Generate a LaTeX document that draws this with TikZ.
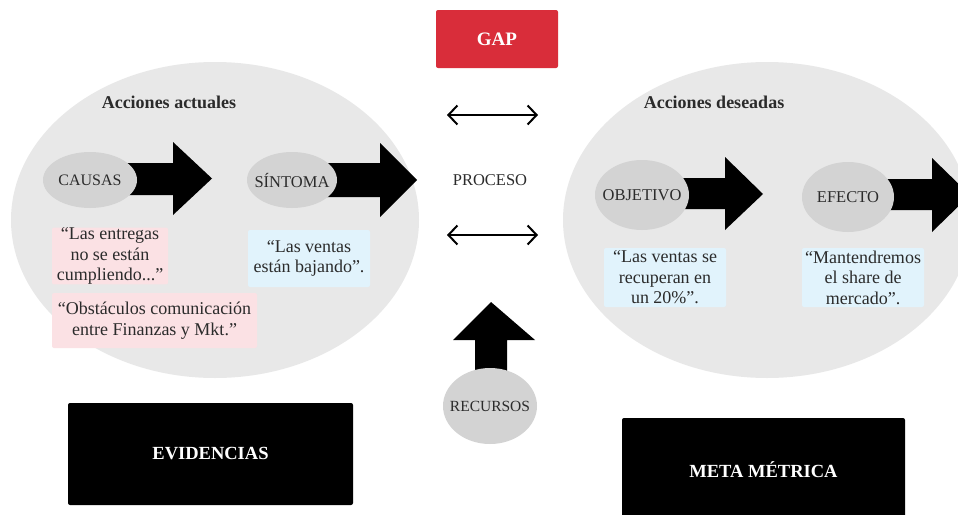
\documentclass[tikz,border=0pt]{standalone}
\usepackage{fontspec}
\setmainfont{Liberation Serif}
\usetikzlibrary{arrows.meta,shapes.geometric}
\definecolor{bigell}{HTML}{E8E8E8}
\definecolor{smallell}{HTML}{D3D3D3}
\definecolor{pinkbox}{HTML}{FBE1E4}
\definecolor{bluebox}{HTML}{E1F3FC}
\definecolor{gapred}{HTML}{D92D3A}
\definecolor{txt}{HTML}{2B2B2B}
\begin{document}
\begin{tikzpicture}[x=1pt,y=-1pt,
  bigellipse/.style={fill=bigell},
  smallel/.style={ellipse, fill=smallell, text=txt, inner xsep=-14pt, inner ysep=-4pt, font=\fontsize{16.5}{19}\selectfont},
  quote/.style={rounded corners=2pt, align=center, text=txt, inner sep=0pt, font=\fontsize{18}{20.5}\selectfont},
  title/.style={font=\bfseries\fontsize{18}{20}\selectfont, text=txt},
  blackbox/.style={fill=black, rounded corners=2pt, text=white, font=\bfseries\fontsize{18.5}{21}\selectfont},
  blockarrow/.style={fill=black},
  dbl/.style={line width=2pt, {Straight Barb[length=9pt,width=19pt,line width=2pt]}-{Straight Barb[length=9pt,width=19pt,line width=2pt]}}
]
\useasboundingbox (0,0) rectangle (958,514);
\fill[white] (0,0) rectangle (958,514);
% big ellipses
\fill[bigellipse] (215,220) ellipse[x radius=204, y radius=158];
\fill[bigellipse] (767,220) ellipse[x radius=204, y radius=158];
% block arrows (drawn before the ellipses they start from)
\fill[blockarrow] (110,163) -- (173,163) -- (173,142) -- (212,178.5) -- (173,215) -- (173,195) -- (110,195) -- cycle;
\fill[blockarrow] (310,163) -- (380,163) -- (380,143) -- (417,180) -- (380,217) -- (380,197) -- (310,197) -- cycle;
\fill[blockarrow] (660,178) -- (725,178) -- (725,157) -- (763,194) -- (725,230) -- (725,209) -- (660,209) -- cycle;
\fill[blockarrow] (870,179) -- (932,179) -- (932,158) -- (970,195) -- (932,232) -- (932,210) -- (870,210) -- cycle;
\fill[blockarrow] (475,390) -- (475,340) -- (453,340) -- (491,302) -- (535,340) -- (507,340) -- (507,390) -- cycle;
% small ellipses
\node[smallel, minimum width=94, minimum height=56, font=\fontsize{16}{19}\selectfont] (causas) at (90,180) {CAUSAS};
\node[smallel, minimum width=90, minimum height=56] (sintoma) at (292,180) {SÍNTOMA};
\node[smallel, minimum width=94, minimum height=70] (objetivo) at (642,195) {OBJETIVO};
\node[smallel, minimum width=92, minimum height=70] (efecto) at (848,197) {EFECTO};
\node[smallel, minimum width=94, minimum height=76, font=\fontsize{15.5}{18}\selectfont] (recursos) at (490,406) {RECURSOS};
% titles
\node[title] (actuales) at (169,102) {Acciones actuales};
\node[title] (deseadas) at (714,102) {Acciones deseadas};
% quote boxes
\node[quote, fill=pinkbox, minimum width=116, minimum height=56] (q1) at (110,256) {“Las entregas\\no se están\\cumpliendo...”};
\node[quote, fill=pinkbox, minimum width=205, minimum height=55] (q2) at (154.5,320.5) {“Obstáculos comunicación\\entre Finanzas y Mkt.”};
\node[quote, fill=bluebox, minimum width=122, minimum height=57] (q3) at (309,258.5) {“Las ventas\\están bajando”.};
\node[quote, fill=bluebox, minimum width=122, minimum height=59] (q4) at (665,277.5) {“Las ventas se\\recuperan en\\un 20\%”.};
\node[quote, fill=bluebox, minimum width=122, minimum height=59] (q5) at (863,277.5) {“Mantendremos\\el share de\\mercado”.};
% center column
\node[fill=gapred, rounded corners=2pt, minimum width=122, minimum height=58, text=white, font=\bfseries\fontsize{19}{21}\selectfont] (gap) at (497,39) {GAP};
\node[text=txt, font=\fontsize{16.5}{19}\selectfont] (proceso) at (490,180) {PROCESO};
\coordinate (a1l) at (447,115);
\coordinate (a1r) at (538,115);
\coordinate (a2l) at (447,235);
\coordinate (a2r) at (538,235);
\draw[dbl] (a1l) -- (a1r);
\draw[dbl] (a2l) -- (a2r);
% black boxes
\node[blackbox, minimum width=285, minimum height=102] (evid) at (210.5,454) {EVIDENCIAS};
\fill[black, rounded corners=2pt] (622,418) rectangle (905,530);
\node[text=white, font=\bfseries\fontsize{18.5}{21}\selectfont] (meta) at (763.5,470) {META MÉTRICA};
\end{tikzpicture}
\end{document}
